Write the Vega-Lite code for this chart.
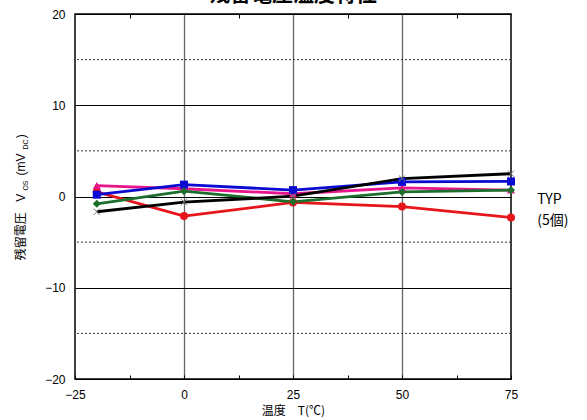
{
  "$schema": "https://vega.github.io/schema/vega-lite/v6.json",
  "width": 436,
  "height": 365,
  "autosize": {"type": "none"},
  "padding": {"left": 75, "top": 14, "right": 76, "bottom": 41},
  "background": "white",
  "title": {"text": "残留電圧温度特性", "font": "Noto Sans CJK JP", "fontSize": 21, "fontWeight": "bold", "color": "#000", "anchor": "middle", "offset": 3},
  "config": {"view": {"stroke": "#000", "strokeWidth": 1.5}},
  "datasets": {
    "series": [
      {"T": -20, "s": "A", "v": 0.5},
      {"T": 0, "s": "A", "v": -2.15},
      {"T": 25, "s": "A", "v": -0.65},
      {"T": 50, "s": "A", "v": -1.1},
      {"T": 75, "s": "A", "v": -2.3},
      {"T": -20, "s": "B", "v": 1.2},
      {"T": 0, "s": "B", "v": 0.85},
      {"T": 25, "s": "B", "v": 0.3},
      {"T": 50, "s": "B", "v": 0.95},
      {"T": 75, "s": "B", "v": 0.7},
      {"T": -20, "s": "C", "v": 0.2},
      {"T": 0, "s": "C", "v": 1.3},
      {"T": 25, "s": "C", "v": 0.7},
      {"T": 50, "s": "C", "v": 1.6},
      {"T": 75, "s": "C", "v": 1.65},
      {"T": -20, "s": "D", "v": -0.8},
      {"T": 0, "s": "D", "v": 0.58},
      {"T": 25, "s": "D", "v": -0.58},
      {"T": 50, "s": "D", "v": 0.5},
      {"T": 75, "s": "D", "v": 0.7},
      {"T": -20, "s": "E", "v": -1.67},
      {"T": 0, "s": "E", "v": -0.62},
      {"T": 25, "s": "E", "v": 0.03},
      {"T": 50, "s": "E", "v": 1.97},
      {"T": 75, "s": "E", "v": 2.5}
    ],
    "dashed": [{"v": -15}, {"v": -5}, {"v": 5}, {"v": 15}]
  },
  "resolve": {"axis": {"x": "independent", "y": "independent"}},
  "layer": [
    {
      "data": {"name": "dashed"},
      "mark": {"type": "rule", "color": "#333", "strokeWidth": 1, "strokeDash": [2, 2]},
      "encoding": {
        "y": {
          "field": "v", "type": "quantitative",
          "scale": {"domain": [-20, 20], "nice": false, "zero": false},
          "axis": {
            "orient": "left",
            "values": [-20, -10, 0, 10, 20], "title": null, "domain": false, "ticks": false,
            "grid": true, "gridColor": "#000", "gridWidth": 1, "gridOpacity": 1,
            "labelFont": "Liberation Sans", "labelFontSize": 12, "labelColor": "#000", "labelPadding": 10
          }
        }
      }
    },
    {
      "data": {"name": "series"},
      "mark": {"type": "point", "opacity": 0},
      "encoding": {
        "x": {
          "field": "T", "type": "quantitative",
          "scale": {"domain": [-25, 75], "nice": false, "zero": false},
          "axis": {
            "orient": "bottom", "values": [-25, -12.5, 0, 12.5, 25, 37.5, 50, 62.5, 75],
            "labelExpr": "datum.value % 25 == 0 ? datum.label : ''",
            "title": "温度　T(℃)", "titleFont": "Noto Sans CJK JP", "titleFontSize": 12, "titleFontWeight": "normal", "titleColor": "#000", "titlePadding": 5,
            "domain": false, "ticks": true, "tickSize": -4, "tickColor": "#000", "tickWidth": 1,
            "grid": true, "gridColor": "#666", "gridWidth": 1.3,
            "gridOpacity": {"condition": {"test": "datum.value == 0 || datum.value == 25 || datum.value == 50", "value": 1}, "value": 0},
            "labelFont": "Liberation Sans", "labelFontSize": 12, "labelColor": "#000", "labelPadding": 14, "labelFlush": false
          }
        },
        "y": {"field": "v", "type": "quantitative", "axis": null}
      }
    },
    {
      "data": {"name": "series"},
      "mark": {"type": "point", "opacity": 0},
      "encoding": {
        "x": {
          "field": "T", "type": "quantitative",
          "axis": {
            "orient": "top", "values": [-12.5, 12.5, 37.5, 62.5], "labels": false, "title": null,
            "domain": false, "grid": false, "ticks": true, "tickSize": -4, "tickColor": "#000", "tickWidth": 1
          }
        },
        "y": {"field": "v", "type": "quantitative", "axis": null}
      }
    },
    {
      "data": {"name": "series"},
      "mark": {"type": "line", "strokeWidth": 2.8},
      "encoding": {
        "x": {"field": "T", "type": "quantitative", "axis": null},
        "y": {"field": "v", "type": "quantitative", "axis": null},
        "color": {
          "field": "s", "type": "nominal", "legend": null,
          "scale": {"domain": ["A", "B", "C", "D", "E"], "range": ["#e8141b", "#e8168c", "#0a0ad2", "#1b6e2c", "#000000"]}
        }
      }
    },
    {
      "data": {"name": "series"},
      "transform": [{"filter": "datum.s != 'E'"}],
      "mark": {"type": "point", "filled": true, "opacity": 1, "size": 65},
      "encoding": {
        "x": {"field": "T", "type": "quantitative", "axis": null},
        "y": {"field": "v", "type": "quantitative", "axis": null},
        "color": {"field": "s", "type": "nominal", "legend": null},
        "shape": {
          "field": "s", "type": "nominal", "legend": null,
          "scale": {"domain": ["A", "B", "C", "D"], "range": ["circle", "triangle-up", "square", "diamond"]}
        }
      }
    },
    {
      "data": {"name": "series"},
      "transform": [{"filter": "datum.s == 'E'"}],
      "mark": {"type": "point", "shape": "M-1,-1L1,1M-1,1L1,-1", "filled": false, "color": "#777", "strokeWidth": 1, "size": 40, "opacity": 1},
      "encoding": {
        "x": {"field": "T", "type": "quantitative", "axis": null},
        "y": {"field": "v", "type": "quantitative", "axis": null}
      }
    },
    {
      "data": {"values": [{}]},
      "mark": {"type": "text", "text": "TYP", "font": "Noto Sans CJK JP", "fontSize": 14, "align": "left", "baseline": "middle", "color": "#000"},
      "encoding": {"x": {"datum": 81, "type": "quantitative", "axis": null}, "y": {"datum": -0.36, "type": "quantitative", "axis": null}}
    },
    {
      "data": {"values": [{}]},
      "mark": {"type": "text", "text": "(5個)", "font": "Noto Sans CJK JP", "fontSize": 14, "align": "left", "baseline": "middle", "color": "#000"},
      "encoding": {"x": {"datum": 81, "type": "quantitative", "axis": null}, "y": {"datum": -2.66, "type": "quantitative", "axis": null}}
    },
    {
      "data": {"values": [{}]},
      "mark": {"type": "text", "text": "残留電圧", "font": "Noto Sans CJK JP", "fontSize": 12, "angle": 270, "align": "center", "baseline": "middle", "color": "#000"},
      "encoding": {"x": {"datum": -37.4, "type": "quantitative", "axis": null}, "y": {"datum": -4.36, "type": "quantitative", "axis": null}}
    },
    {
      "data": {"values": [{}]},
      "mark": {"type": "text", "text": "V", "font": "Liberation Sans", "fontSize": 12, "angle": 270, "align": "center", "baseline": "middle", "color": "#000"},
      "encoding": {"x": {"datum": -37.4, "type": "quantitative", "axis": null}, "y": {"datum": -0.14, "type": "quantitative", "axis": null}}
    },
    {
      "data": {"values": [{}]},
      "mark": {"type": "text", "text": "OS", "font": "Liberation Sans", "fontSize": 7, "angle": 270, "align": "center", "baseline": "middle", "color": "#000"},
      "encoding": {"x": {"datum": -36.3, "type": "quantitative", "axis": null}, "y": {"datum": 1.2, "type": "quantitative", "axis": null}}
    },
    {
      "data": {"values": [{}]},
      "mark": {"type": "text", "text": "(mV", "font": "Liberation Sans", "fontSize": 12, "angle": 270, "align": "center", "baseline": "middle", "color": "#000"},
      "encoding": {"x": {"datum": -37.4, "type": "quantitative", "axis": null}, "y": {"datum": 3.5, "type": "quantitative", "axis": null}}
    },
    {
      "data": {"values": [{}]},
      "mark": {"type": "text", "text": "DC", "font": "Liberation Sans", "fontSize": 7, "angle": 270, "align": "center", "baseline": "middle", "color": "#000"},
      "encoding": {"x": {"datum": -36.3, "type": "quantitative", "axis": null}, "y": {"datum": 5.7, "type": "quantitative", "axis": null}}
    },
    {
      "data": {"values": [{}]},
      "mark": {"type": "text", "text": ")", "font": "Liberation Sans", "fontSize": 12, "angle": 270, "align": "center", "baseline": "middle", "color": "#000"},
      "encoding": {"x": {"datum": -37.4, "type": "quantitative", "axis": null}, "y": {"datum": 6.6, "type": "quantitative", "axis": null}}
    }
  ]
}
